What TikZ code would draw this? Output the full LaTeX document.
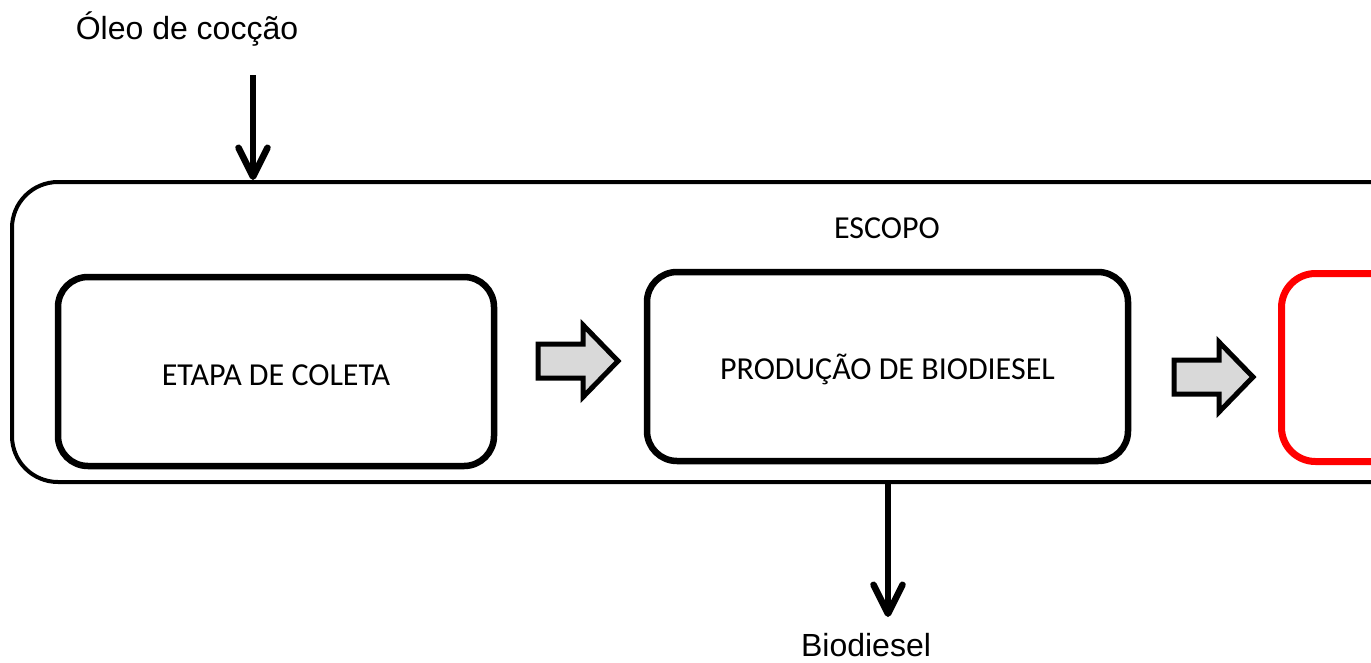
\documentclass[tikz,border=0pt]{standalone}
\usepackage{fontspec}
\setmainfont{Liberation Sans}
\newfontfamily\boxfont{Carlito}
\usetikzlibrary{arrows.meta}
\definecolor{arrowgray}{HTML}{D9D9D9}
\tikzset{
  scopebox/.style={draw, line width=4pt, rounded corners=46pt, inner sep=0pt},
  stagebox/.style={draw, line width=6.5pt, rounded corners=30pt, inner sep=0pt,
    minimum height=189pt},
  redbox/.style={stagebox, draw=red, line width=7pt, rounded corners=34pt},
  flowarrow/.style={line width=6.5pt, -{Straight Barb[length=29pt, width=29pt, round]}},
  blockarrow/.style={draw, fill=arrowgray, line width=5pt, miter limit=10},
  plain/.style={inner sep=0pt, anchor=base, font=\fontsize{32}{38}\selectfont},
  boxlabel/.style={inner sep=0pt, anchor=base, font=\boxfont\fontsize{32}{38}\selectfont}
}
\begin{document}
\begin{tikzpicture}[x=1pt, y=-1pt]
  \useasboundingbox (0,0) rectangle (1371,662);
  \clip (0,0) rectangle (1371,662);

  % outer scope frame, running past the right edge
  \node[scopebox, minimum width=1418pt, minimum height=300pt] (escopo) at (721,332) {};
  \node[boxlabel] (escopotxt) at (887,238) {ESCOPO};

  % process stages
  \node[stagebox, minimum width=436pt] (coleta) at (276,371.5) {};
  \node[boxlabel] (coletatxt) at (276,385) {ETAPA DE COLETA};
  \node[stagebox, minimum width=481pt] (producao) at (887.5,366.5) {};
  \node[boxlabel] (producaotxt) at (887.5,379) {PRODUÇÃO DE BIODIESEL};
  \node[redbox, minimum width=200pt, minimum height=188pt] (proxima) at (1381.5,367.5) {};

  % block arrows between stages
  \draw[blockarrow] (538,344) -- (583,344) -- (583,325) -- (618,361)
    -- (583,397) -- (583,378) -- (538,378) -- cycle;
  \draw[blockarrow] (1174,360) -- (1219,360) -- (1219,342) -- (1253,377)
    -- (1219,412) -- (1219,394) -- (1174,394) -- cycle;

  % input and output flows
  \node[plain] (oleo) at (187,39) {Óleo de cocção};
  \coordinate (oleoin) at (253,75);
  \draw[flowarrow] (oleoin) -- (oleoin |- escopo.north);

  \node[plain] (biodiesel) at (866,656) {Biodiesel};
  \coordinate (bioout) at (888,617);
  \draw[flowarrow] (bioout |- escopo.south) -- (bioout);
\end{tikzpicture}
\end{document}
